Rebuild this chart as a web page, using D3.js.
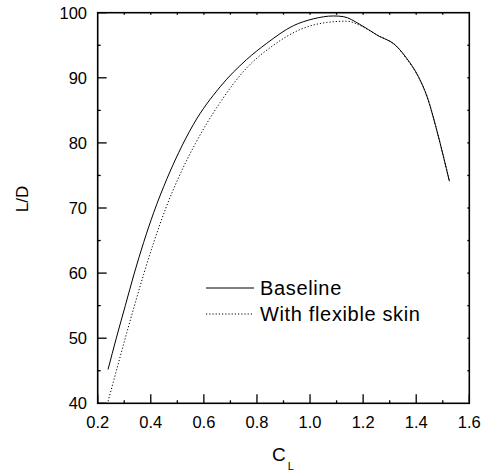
<!DOCTYPE html>
<html lang="en">
<head>
<meta charset="UTF-8">
<title>L/D vs CL</title>
<script src="https://d3js.org/d3.v7.min.js"></script>
<style>
    body { margin: 0; background: #fff; }
    text { font-family: "Liberation Sans", Arial, sans-serif; fill: #000; }
    .frame { fill: none; stroke: #000; stroke-width: 1.6px; }
    .tick-line { stroke: #000; stroke-width: 1.3px; }
    .curve { fill: none; stroke: #000; stroke-width: 1px; }
</style>
</head>
<body>
<script>

// data
const clBase = [0.239, 0.27, 0.304, 0.338, 0.373, 0.411, 0.461, 0.505, 0.56, 0.661, 0.761, 0.837, 0.937, 1.012, 1.088, 1.125, 1.188, 1.251, 1.327, 1.364, 1.408, 1.44, 1.477, 1.502, 1.525]
const ldBase = [45.2, 50.0, 55.0, 60.0, 64.7, 69.3, 74.5, 78.5, 82.8, 88.6, 92.8, 95.3, 98.0, 99.05, 99.5, 99.4, 98.2, 96.6, 94.8, 93.0, 90.2, 87.2, 82.0, 78.0, 74.1]

const clFlex = [0.239, 0.275, 0.31, 0.342, 0.373, 0.411, 0.455, 0.505, 0.568, 0.661, 0.761, 0.862, 0.962, 1.063, 1.138, 1.19, 1.251, 1.327, 1.364, 1.41, 1.442, 1.478, 1.502, 1.525]
const ldFlex = [40.3, 45.7, 50.9, 55.5, 59.8, 64.7, 69.8, 74.7, 79.9, 86.2, 91.5, 95.0, 97.4, 98.5, 98.7, 98.0, 96.6, 94.8, 92.9, 90.0, 87.0, 81.9, 78.0, 74.2]

const xTicks = [0.2, 0.4, 0.6, 0.8, 1.0, 1.2, 1.4, 1.6]
const yTicks = [40, 50, 60, 70, 80, 90, 100]
const legendNames = ["Baseline", "With flexible skin"]

const W = 483, H = 474
const M = {LEFT: 97.7, RIGHT: 469.3, TOP: 12.7, BOTTOM: 403.3}

const svg = d3.select("body").append("svg")
    .attr("width", W)
    .attr("height", H)

const x = d3.scaleLinear().domain([0.2, 1.6]).range([M.LEFT, M.RIGHT])
const y = d3.scaleLinear().domain([40, 100]).range([M.BOTTOM, M.TOP])

// minor ticks (tiny) every 0.1 / 5
const xMinor = d3.range(0.3, 1.6, 0.2)
const yMinor = d3.range(45, 100, 5).filter(v => v % 10 != 0)

// bottom axis: major ticks inward, labels below
const bottom = svg.append("g")
xTicks.forEach(t => {
    bottom.append("line").attr("class", "tick-line")
        .attr("x1", x(t)).attr("x2", x(t))
        .attr("y1", M.BOTTOM).attr("y2", M.BOTTOM - 9)
    bottom.append("text")
        .attr("x", x(t)).attr("y", 428)
        .attr("text-anchor", "middle")
        .attr("font-size", "16.5px")
        .text(d3.format(".1f")(t))
})
xMinor.forEach(t => {
    bottom.append("line").attr("class", "tick-line")
        .attr("x1", x(t)).attr("x2", x(t))
        .attr("y1", M.BOTTOM).attr("y2", M.BOTTOM - 3)
})

// top axis: small ticks only
d3.range(0.3, 1.6, 0.1).forEach(t => {
    svg.append("line").attr("class", "tick-line")
        .attr("x1", x(t)).attr("x2", x(t))
        .attr("y1", M.TOP).attr("y2", M.TOP + 2)
})

// left axis
const left = svg.append("g")
yTicks.forEach(t => {
    left.append("line").attr("class", "tick-line")
        .attr("x1", M.LEFT).attr("x2", M.LEFT + 9)
        .attr("y1", y(t)).attr("y2", y(t))
    left.append("text")
        .attr("x", 87).attr("y", y(t))
        .attr("dy", "0.36em")
        .attr("text-anchor", "end")
        .attr("font-size", "16.5px")
        .text(t)
})
yMinor.forEach(t => {
    left.append("line").attr("class", "tick-line")
        .attr("x1", M.LEFT).attr("x2", M.LEFT + 3)
        .attr("y1", y(t)).attr("y2", y(t))
})

// right axis: small ticks
d3.range(45, 100, 5).forEach(t => {
    svg.append("line").attr("class", "tick-line")
        .attr("x1", M.RIGHT).attr("x2", M.RIGHT - 2)
        .attr("y1", y(t)).attr("y2", y(t))
})

// frame
svg.append("rect").attr("class", "frame")
    .attr("x", M.LEFT).attr("y", M.TOP)
    .attr("width", M.RIGHT - M.LEFT).attr("height", M.BOTTOM - M.TOP)

// axis titles
svg.append("text")
    .attr("transform", "translate(28, 199) rotate(-90)")
    .attr("text-anchor", "middle")
    .attr("font-size", "17px")
    .text("L/D")

const xTitle = svg.append("text")
    .attr("x", 272).attr("y", 461)
    .attr("font-size", "19px")
    .text("C")
xTitle.append("tspan")
    .attr("dx", 2).attr("dy", 9)
    .attr("font-size", "11px")
    .text("L")

// curves
const line = d3.line()
    .x(d => x(d[0]))
    .y(d => y(d[1]))
    .curve(d3.curveMonotoneX)

svg.append("path").attr("class", "curve")
    .datum(d3.zip(clBase, ldBase))
    .attr("d", line)

svg.append("path").attr("class", "curve")
    .datum(d3.zip(clFlex, ldFlex))
    .attr("stroke-dasharray", "1.2,2")
    .attr("d", line)

// legend
const legend = svg.append("g").attr("transform", "translate(206, 288)")
legendNames.forEach((name, i) => {
    const row = legend.append("g").attr("transform", `translate(0, ${i * 26})`)
    row.append("line").attr("class", "curve")
        .attr("x1", 0).attr("x2", 48)
        .attr("y1", 0).attr("y2", 0)
        .attr("stroke-dasharray", i == 1 ? "1.2,2" : null)
    row.append("text")
        .attr("x", 54).attr("y", 7)
        .attr("font-size", "20px")
        .attr("letter-spacing", "0.65px")
        .text(name)
})

</script>
</body>
</html>
